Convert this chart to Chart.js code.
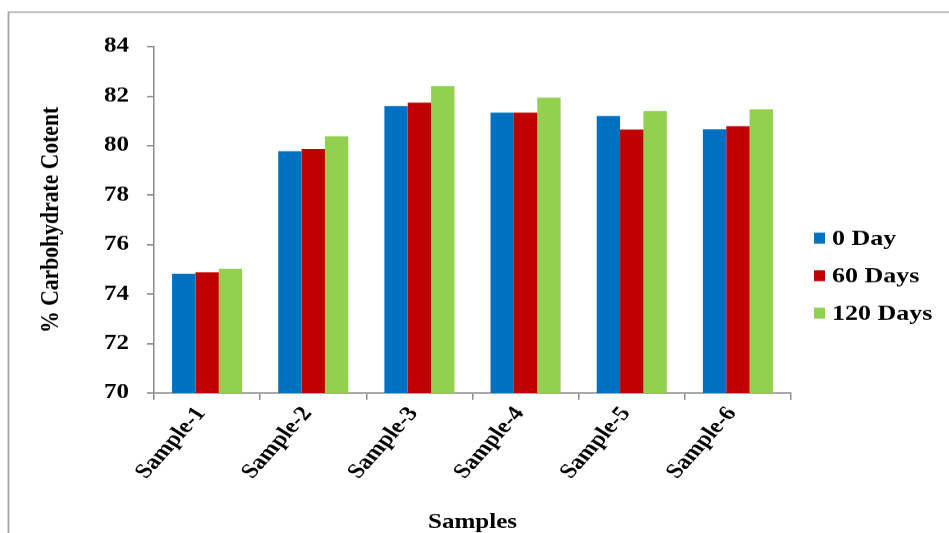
<!DOCTYPE html>
<html>
<head>
<meta charset="utf-8">
<script src="https://cdn.jsdelivr.net/npm/chart.js@4/dist/chart.umd.min.js"></script>
<style>
  html, body { margin: 0; padding: 0; background: #ffffff; overflow: hidden; }
  #wrap { width: 949px; height: 533px; position: relative; overflow: hidden; }
  /* the figure is laid out on a taller canvas and squeezed to the page height */
  #c { transform: scale(1, 0.8328); transform-origin: 0 0; }
</style>
</head>
<body>
<div id="wrap"><canvas id="c" width="949" height="640"></canvas></div>
<script>
// Carbohydrate content (%) of six samples during storage
const samples = ['Sample-1', 'Sample-2', 'Sample-3', 'Sample-4', 'Sample-5', 'Sample-6'];
const day0   = [74.82, 79.78, 81.60, 81.33, 81.20, 80.66];
const day60  = [74.88, 79.86, 81.74, 81.33, 80.65, 80.79];
const day120 = [75.02, 80.38, 82.41, 81.94, 81.40, 81.47];
const seriesNames = ['0 Day', '60 Days', '120 Days'];
const seriesColors = ['#0070C0', '#C00000', '#92D050'];

const serif = "'Liberation Serif', 'Times New Roman', serif";
const axisGray = '#8c8c8c';

// Outer frame of the figure
const framePlugin = {
  id: 'frame',
  beforeDraw(chart) {
    const ctx = chart.ctx;
    ctx.save();
    ctx.strokeStyle = '#a6a6a6';
    ctx.lineWidth = 1.8;
    ctx.strokeRect(8.5, 14.5, 1200, 900);
    ctx.restore();
  }
};

// Legend drawn beside the plot from the dataset labels and colours
const sideLegend = {
  id: 'sideLegend',
  afterDraw(chart) {
    const ctx = chart.ctx;
    ctx.save();
    ctx.font = "bold 26px " + serif;
    ctx.textBaseline = 'middle';
    chart.data.datasets.forEach((ds, i) => {
      const cy = 286 + i * 45;
      ctx.fillStyle = ds.backgroundColor;
      ctx.fillRect(814, cy - 6.6, 11, 13.2);
      ctx.fillStyle = '#000';
      ctx.fillText(ds.label, 832, cy + 1);
    });
    ctx.restore();
  }
};

const values = [day0, day60, day120];
new Chart(document.getElementById('c'), {
  type: 'bar',
  data: {
    labels: samples,
    datasets: seriesNames.map((name, i) => ({
      label: name,
      data: values[i],
      backgroundColor: seriesColors[i],
      borderWidth: 0,
      categoryPercentage: 0.66,
      barPercentage: 1.0
    }))
  },
  options: {
    responsive: false,
    animation: false,
    devicePixelRatio: 1,
    layout: { padding: { top: 56, right: 158, bottom: 0, left: 0 } },
    plugins: {
      legend: { display: false },
      tooltip: { enabled: false }
    },
    scales: {
      x: {
        offset: true,
        grid: { display: true, offset: true, drawOnChartArea: false, drawTicks: true, tickLength: 8, color: axisGray, lineWidth: 1.5 },
        border: { display: true, color: axisGray, width: 1.8 },
        ticks: {
          maxRotation: 53, minRotation: 53,
          color: '#000',
          padding: 3,
          labelOffset: -6,
          font: { family: serif, size: 25, weight: 'bold' }
        },
        title: {
          display: true,
          text: 'Samples',
          color: '#000',
          padding: { top: 0, bottom: 0 },
          font: { family: serif, size: 25, weight: 'bold', lineHeight: 1 }
        },
        afterFit(scale) { scale.height = 168; }
      },
      y: {
        min: 70, max: 84,
        ticks: {
          stepSize: 2,
          color: '#000',
          padding: 18,
          font: { family: serif, size: 25, weight: 'bold' }
        },
        grid: { display: true, drawOnChartArea: false, drawTicks: true, tickLength: 7, color: axisGray, lineWidth: 1.8 },
        border: { display: true, color: axisGray, width: 1.5 },
        title: {
          display: true,
          text: '% Carbohydrate Cotent',
          color: '#000',
          padding: { top: 36, bottom: 0 },
          font: { family: serif, size: 26, weight: 'bold', lineHeight: 1.2 }
        },
        afterFit(scale) { scale.width = 154; }
      }
    }
  },
  plugins: [framePlugin, sideLegend]
});
</script>
</body>
</html>
